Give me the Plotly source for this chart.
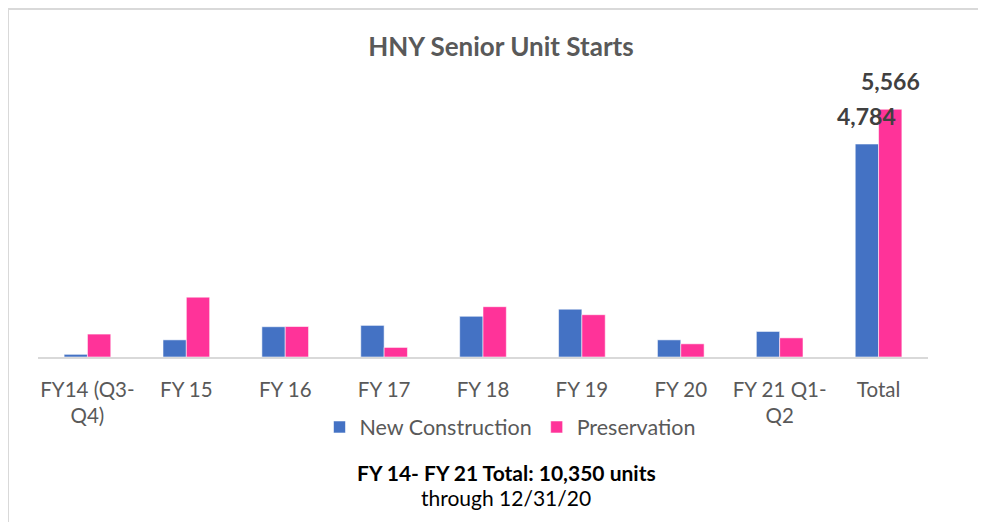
import plotly.graph_objects as go

categories = ["FY14 (Q3-<br>Q4)", "FY 15", "FY 16", "FY 17", "FY 18", "FY 19", "FY 20", "FY 21 Q1-<br>Q2", "Total"]
new_construction = [60, 385, 680, 710, 915, 1075, 385, 574, 4784]
preservation = [515, 1345, 685, 215, 1130, 950, 296, 430, 5566]
series_names = ["New Construction", "Preservation"]
title_text = "HNY Senior Unit Starts"
subtitle_bold = "FY 14- FY 21 Total: 10,350 units"
subtitle_plain = "through 12/31/20"

FONT = "Lato, Calibri, Carlito, sans-serif"
BLUE = "#4472C4"
PINK = "#FF3399"

# plot area in figure pixels
L, R, T, B = 30, 66, 73, 173
PW, PH = 986 - L - R, 522 - T - B


def px(fx):
    return (fx - L) / PW


def py(fy):
    return (522 - B - fy) / PH


fig = go.Figure()
fig.add_trace(go.Bar(x=categories, y=new_construction, name=series_names[0],
                     marker=dict(color=BLUE, line=dict(color="rgba(255,255,255,0.55)", width=1))))
fig.add_trace(go.Bar(x=categories, y=preservation, name=series_names[1],
                     marker=dict(color=PINK, line=dict(color="rgba(255,255,255,0.55)", width=1))))

# data labels on the Total bars
fig.add_annotation(x=categories[-1], y=new_construction[-1], text=f"{new_construction[-1]:,}",
                   showarrow=False, xshift=-12, yshift=12, yanchor="bottom",
                   font=dict(family=FONT, size=23, color="#404040", weight="bold"))
fig.add_annotation(x=categories[-1], y=preservation[-1], text=f"{preservation[-1]:,}",
                   showarrow=False, xshift=12, yshift=12, yanchor="bottom",
                   font=dict(family=FONT, size=23, color="#404040", weight="bold"))

# subtitle lines below legend
fig.add_annotation(xref="paper", yref="paper", x=px(498), y=py(464), text=f"<b>{subtitle_bold}</b>",
                   showarrow=False, yanchor="middle", font=dict(family=FONT, size=21, color="#000000"))
fig.add_annotation(xref="paper", yref="paper", x=px(498), y=py(489), text=subtitle_plain,
                   showarrow=False, yanchor="middle", font=dict(family=FONT, size=21, color="#000000"))

# chart frame (left and top edges)
fig.add_shape(type="line", xref="paper", yref="paper", x0=px(0), x1=px(0),
              y0=py(0), y1=py(530), line=dict(color="#D9D9D9", width=2))
fig.add_shape(type="line", xref="paper", yref="paper", x0=px(0), x1=px(990),
              y0=py(1), y1=py(1), line=dict(color="#D9D9D9", width=2))

fig.update_layout(
    width=986, height=522,
    margin=dict(l=L, r=R, t=T, b=B),
    paper_bgcolor="white", plot_bgcolor="white",
    barmode="group", bargap=0.528, bargroupgap=0,
    title=dict(text=f"<b>{title_text}</b>", x=px(493), xanchor="center", xref="paper",
               y=1 - 39 / 522, yanchor="middle",
               font=dict(family=FONT, size=26, color="#595959")),
    font=dict(family=FONT, size=20, color="#595959"),
    showlegend=True,
    legend=dict(orientation="h", x=px(502), xanchor="center", y=py(419), yanchor="middle",
                font=dict(family=FONT, size=21.5, color="#595959"), bgcolor="rgba(0,0,0,0)",
                traceorder="normal"),
    xaxis=dict(showline=True, linecolor="#D9D9D9", linewidth=2, ticks="outside", ticklen=13,
               tickcolor="rgba(0,0,0,0)", tickfont=dict(family=FONT, size=20.5, color="#595959"),
               showgrid=False, fixedrange=True),
    yaxis=dict(range=[0, 6200], visible=False, showgrid=False, zeroline=False),
)

fig.write_html("out.html")
